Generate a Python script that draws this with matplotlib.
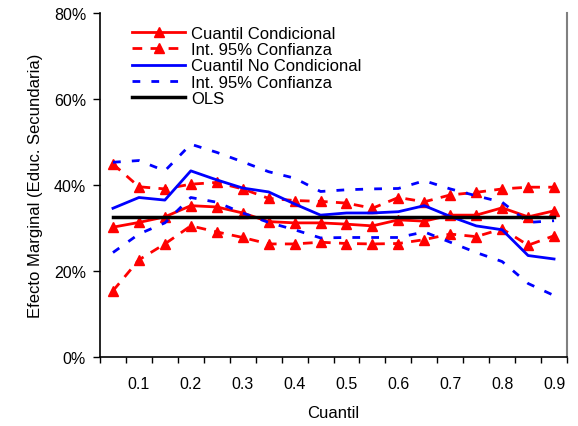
import numpy as np
import matplotlib.pyplot as plt
from matplotlib.ticker import FixedLocator, PercentFormatter

plt.rcParams['font.family'] = ['Liberation Sans', 'DejaVu Sans']

# quantiles 0.05 ... 0.90
cuantil = [0.05, 0.10, 0.15, 0.20, 0.25, 0.30, 0.35, 0.40, 0.45,
           0.50, 0.55, 0.60, 0.65, 0.70, 0.75, 0.80, 0.85, 0.90]

# conditional quantile regression (percent)
cond = [30.2, 31.3, 32.6, 35.2, 34.9, 33.5, 31.5, 31.2, 31.2,
        30.9, 30.5, 31.9, 31.6, 33.0, 33.0, 34.7, 32.6, 34.0]
cond_hi = [44.9, 39.6, 39.1, 40.2, 40.6, 39.1, 36.9, 36.4, 36.2,
           35.8, 34.6, 37.1, 36.1, 37.7, 38.3, 39.1, 39.5, 39.5]
cond_lo = [15.4, 22.6, 26.3, 30.5, 29.1, 27.8, 26.3, 26.3, 26.7,
           26.4, 26.3, 26.4, 27.3, 28.6, 28.0, 29.8, 26.0, 28.2]

# unconditional quantile regression (percent)
nocond = [34.6, 37.1, 36.5, 43.3, 41.2, 39.3, 38.4, 35.6, 33.0,
          33.5, 33.5, 33.8, 35.2, 32.7, 30.5, 29.6, 23.6, 22.8]
nocond_hi = [45.3, 45.7, 43.3, 49.5, 47.6, 45.4, 43.1, 41.6, 38.5,
             38.9, 39.1, 39.2, 41.0, 39.1, 37.5, 36.0, 31.3, 31.7]
nocond_lo = [24.3, 28.6, 31.2, 37.1, 36.0, 33.5, 31.3, 29.6, 27.7,
             27.8, 27.8, 27.8, 29.1, 26.7, 24.3, 22.2, 17.1, 14.3]

ols = 32.5

fig = plt.figure(figsize=(5.78, 4.27), dpi=100)
ax = fig.add_axes([0.173, 0.1616, 0.808, 0.8054])

red_dash = (0, (3.5, 3))
blue_dash = (0, (2.8, 4))

ax.plot(cuantil, cond, color='#ff0000', lw=2, marker='^', ms=7.5,
        label='Cuantil Condicional')
ax.plot(cuantil, cond_hi, color='#ff0000', lw=2, ls=red_dash, marker='^', ms=7.5,
        label='Int. 95% Confianza')
ax.plot(cuantil, cond_lo, color='#ff0000', lw=2, ls=red_dash, marker='^', ms=7.5)
ax.plot(cuantil, nocond, color='#0000ff', lw=2, label='Cuantil No Condicional')
ax.plot(cuantil, nocond_hi, color='#0000ff', lw=2, ls=blue_dash,
        label='Int. 95% Confianza')
ax.plot(cuantil, nocond_lo, color='#0000ff', lw=2, ls=blue_dash)
ax.plot(cuantil, [ols] * len(cuantil), color='black', lw=2.5, label='OLS')

ax.set_xlim(0.025, 0.925)
ax.set_ylim(0, 80)

ax.xaxis.set_major_locator(FixedLocator([0.1, 0.2, 0.3, 0.4, 0.5, 0.6, 0.7, 0.8, 0.9]))
ax.xaxis.set_minor_locator(FixedLocator(np.arange(0.025, 0.93, 0.05)))
ax.tick_params(axis='x', which='major', length=0, pad=14, labelsize=11.5)
ax.tick_params(axis='x', which='minor', length=4, direction='out', width=1)
ax.set_xticklabels(['0.1', '0.2', '0.3', '0.4', '0.5', '0.6', '0.7', '0.8', '0.9'])

ax.set_yticks([0, 20, 40, 60, 80])
ax.yaxis.set_major_formatter(PercentFormatter(decimals=0))
ax.tick_params(axis='y', length=5, direction='out', width=1, labelsize=11.5, pad=5)

ax.spines['top'].set_visible(False)
ax.spines['right'].set_color('#808080')
ax.spines['right'].set_linewidth(1.5)
for s in ('left', 'bottom'):
    ax.spines[s].set_linewidth(1.2)

ax.set_xlabel('Cuantil', fontsize=12, labelpad=10)
ax.set_ylabel('Efecto Marginal (Educ. Secundaria)', fontsize=12, labelpad=8)

ax.legend(loc='upper left', bbox_to_anchor=(0.0685, 0.963), frameon=False,
          fontsize=12, handlelength=3.2, handletextpad=0.36, labelspacing=0.08,
          borderpad=0, borderaxespad=0)

fig.savefig('out.png', dpi=100)
